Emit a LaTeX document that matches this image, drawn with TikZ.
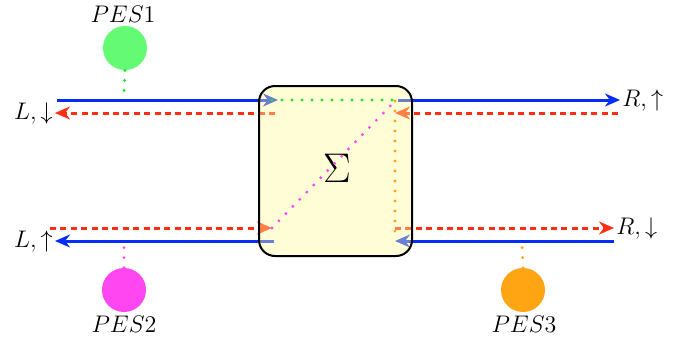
\documentclass[tikz,border=0pt]{standalone}
\usetikzlibrary{arrows.meta}
\definecolor{lineblue}{RGB}{5,45,250}
\definecolor{linered}{RGB}{255,45,20}
\definecolor{pesgreen}{RGB}{100,250,115}
\definecolor{dotgreen}{RGB}{40,220,40}
\definecolor{pesmag}{RGB}{255,70,240}
\definecolor{pesorange}{RGB}{255,165,20}
\begin{document}
\begin{tikzpicture}[x=0.5pt,y=-0.5pt,
  solidflow/.style={draw=lineblue,line width=1.5pt,-{Stealth[length=7.5pt,width=6.5pt]}},
  dashflow/.style={draw=linered,line width=1.5pt,dash pattern=on 3pt off 2.2pt,-{Stealth[length=7.5pt,width=6.5pt]}},
  coupling/.style={line width=1.6pt,line cap=round,dash pattern=on 0pt off 5pt},
  pes/.style={circle,minimum size=22pt,inner sep=0pt},
  lbl/.style={inner sep=1pt,font=\large}]
\useasboundingbox (0,0) rectangle (681,339);

% lead end points
\coordinate (tl1) at (57,100);  \coordinate (tl2) at (278,100);
\coordinate (tr1) at (398,100); \coordinate (tr2) at (620,100);
\coordinate (ul1) at (618,113); \coordinate (ul2) at (395,113);
\coordinate (ur1) at (275,113); \coordinate (ur2) at (55,113);
\coordinate (bl1) at (50,228);  \coordinate (bl2) at (272,228);
\coordinate (br1) at (395,228); \coordinate (br2) at (614,228);
\coordinate (dl1) at (274,241); \coordinate (dl2) at (55,241);
\coordinate (dr1) at (614,241); \coordinate (dr2) at (395,241);

% incoming and outgoing channels
\draw[solidflow] (tl1) -- (tl2);
\draw[solidflow] (tr1) -- (tr2);
\draw[dashflow] (ul1) -- (ul2);
\draw[dashflow] (ur1) -- (ur2);
\draw[dashflow] (bl1) -- (bl2);
\draw[dashflow] (br1) -- (br2);
\draw[solidflow] (dl1) -- (dl2);
\draw[solidflow] (dr1) -- (dr2);

% scattering region
\node[draw=black,line width=1pt,rounded corners=8pt,fill=yellow!40,fill opacity=0.4,
      text opacity=1,minimum width=76.5pt,minimum height=85pt] (S) at (335.5,171) {};
\node at (337,168) {\fontsize{22}{26}\selectfont$\Sigma$};

% probes
\node[pes,fill=pesgreen] (p1) at (125,48) {};
\node[pes,fill=pesmag] (p2) at (124,290) {};
\node[pes,fill=pesorange] (p3) at (523,290) {};
\node[lbl] at (123,14) {$PES1$};
\node[lbl] at (124,324) {$PES2$};
\node[lbl] at (524,324) {$PES3$};

% couplings
\coordinate (g1) at (124,92);
\coordinate (m1) at (124,243);
\coordinate (o1) at (522,243);
\coordinate (gA) at (272,100); \coordinate (gB) at (399,100);
\coordinate (mA) at (272,228); \coordinate (mB) at (396,100);
\coordinate (oA) at (395,101); \coordinate (oB) at (395,236);
\draw[coupling,dotgreen] (p1.south) -- (g1);
\draw[coupling,pesmag] (p2.north) -- (m1);
\draw[coupling,pesorange] (p3.north) -- (o1);
\draw[coupling,dotgreen] (gA) -- (gB);
\draw[coupling,pesmag] (mA) -- (mB);
\draw[coupling,pesorange] (oA) -- (oB);

% lead labels
\node[lbl,anchor=east] (Ld) at (ur2) {$L,\downarrow$};
\node[lbl,anchor=west] (Ru) at (tr2) {$R,\uparrow$};
\node[lbl,anchor=east] (Lu) at (dl2) {$L,\uparrow$};
\node[lbl,anchor=west] (Rd) at (br2) {$R,\downarrow$};
\end{tikzpicture}
\end{document}
